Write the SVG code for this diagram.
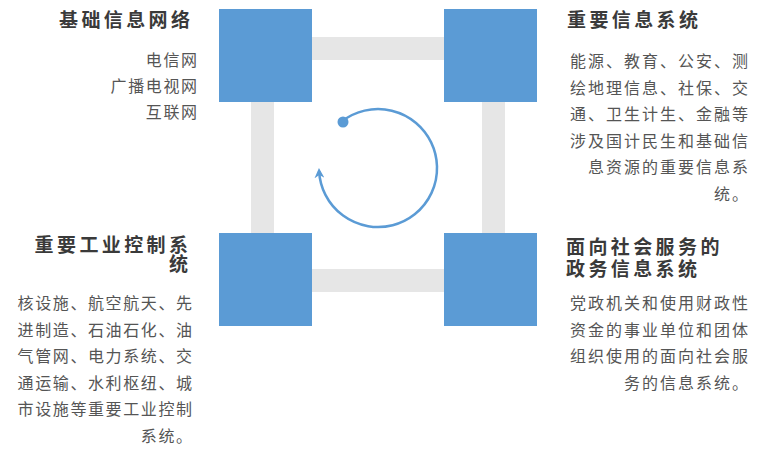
<svg xmlns="http://www.w3.org/2000/svg" width="764" height="462" viewBox="0 0 764 462">
<defs>
<style>
.sq{fill:#5b9bd5}
.bar{fill:#e6e6e6}
.h{font-family:"Noto Sans CJK SC","Liberation Sans",sans-serif;font-size:19px;font-weight:bold;fill:#3a3a3a;letter-spacing:3.4px}
.b{font-family:"Noto Sans CJK SC","Liberation Sans",sans-serif;font-size:16px;fill:#555;letter-spacing:1.6px}
.r{letter-spacing:2px}
.e{text-anchor:end}
</style>
<marker id="ah" viewBox="0 0 10 10" refX="7" refY="5" markerWidth="10" markerHeight="10" markerUnits="userSpaceOnUse" orient="auto">
<path d="M0,0 L10,5 L0,10 L3,5 Z" fill="#5b9bd5"/>
</marker>
</defs>
<rect width="764" height="462" fill="#fff"/>
<g id="connectors">
<rect class="bar" x="312" y="37" width="132" height="23"/>
<rect class="bar" x="312" y="269" width="132" height="23"/>
<rect class="bar" x="251" y="102" width="23" height="131"/>
<rect class="bar" x="482" y="102" width="23" height="131"/>
<path d="M342.3,121.1 A59,59 0 1 1 319.1,171.1" fill="none" stroke="#5b9bd5" stroke-width="2.5" marker-end="url(#ah)"/>
<circle cx="343" cy="122" r="5.5" fill="#5b9bd5"/>
</g>
<g id="node-tl">
<rect class="sq" x="219" y="9" width="93" height="93"/>
<text class="h e" x="193.4" y="26.5">基础信息网络</text>
<text class="b e" x="198.6" y="66">电信网</text>
<text class="b e" x="198.6" y="92">广播电视网</text>
<text class="b e" x="198.6" y="118">互联网</text>
</g>
<g id="node-tr">
<rect class="sq" x="444" y="9" width="93" height="93"/>
<text class="h" x="567" y="26.5">重要信息系统</text>
<text class="b r e" x="750" y="67">能源、教育、公安、测</text>
<text class="b r e" x="750" y="93.5">绘地理信息、社保、交</text>
<text class="b r e" x="750" y="120">通、卫生计生、金融等</text>
<text class="b r e" x="750" y="146.5">涉及国计民生和基础信</text>
<text class="b r e" x="750" y="173">息资源的重要信息系</text>
<text class="b r e" x="750" y="199.5">统。</text>
</g>
<g id="node-bl">
<rect class="sq" x="219" y="233" width="93" height="93"/>
<text class="h e" x="191.4" y="252">重要工业控制系</text>
<text class="h e" x="191.4" y="271">统</text>
<text class="b e" x="193.6" y="309">核设施、航空航天、先</text>
<text class="b e" x="193.6" y="335.5">进制造、石油石化、油</text>
<text class="b e" x="193.6" y="362">气管网、电力系统、交</text>
<text class="b e" x="193.6" y="388.5">通运输、水利枢纽、城</text>
<text class="b e" x="193.6" y="415">市设施等重要工业控制</text>
<text class="b e" x="193.6" y="441.5">系统。</text>
</g>
<g id="node-br">
<rect class="sq" x="444" y="233" width="93" height="93"/>
<text class="h" x="566" y="254">面向社会服务的</text>
<text class="h" x="566" y="276">政务信息系统</text>
<text class="b r e" x="750" y="309">党政机关和使用财政性</text>
<text class="b r e" x="750" y="335.5">资金的事业单位和团体</text>
<text class="b r e" x="750" y="362">组织使用的面向社会服</text>
<text class="b r e" x="750" y="388.5">务的信息系统。</text>
</g>
</svg>
